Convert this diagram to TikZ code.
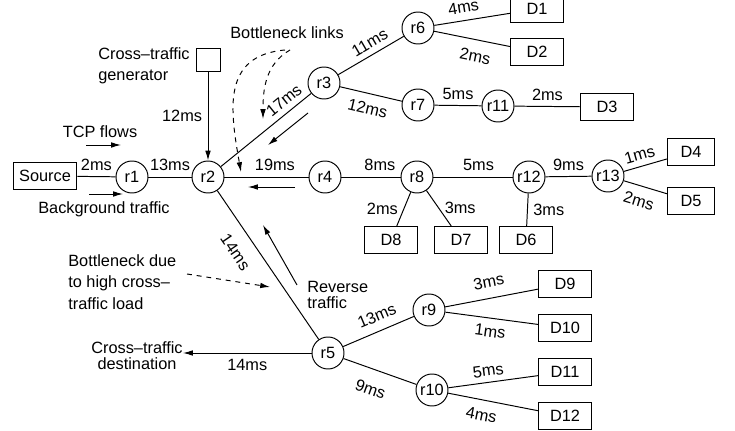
\documentclass[tikz,border=0pt]{standalone}
\usepackage{fontspec}
\setmainfont{Liberation Sans}
\usetikzlibrary{arrows.meta}
\tikzset{
  node-router/.style={draw,circle,line width=0.6pt,minimum size=19.6pt,inner sep=0pt},
  node-host/.style={draw,line width=0.6pt,minimum width=32pt,minimum height=16.5pt,inner sep=0pt},
  node-note/.style={inner sep=0pt,align=left,font=\fontsize{10}{13}\selectfont},
  link/.style={line width=0.6pt},
  arrow/.style={-{Latex[length=6pt,width=3.4pt]},line width=0.6pt},
  arrow-dashed/.style={-{Latex[length=6pt,width=3.4pt]},line width=0.6pt,dashed},
}

\begin{document}
\begin{tikzpicture}[x=0.6125pt,y=-0.6125pt,every node/.style={font=\fontsize{10}{12}\selectfont}]
  \useasboundingbox (0,0) rectangle (735,431);
  % routers
  \node[node-router] (r1)  at (132,177) {r1};
  \node[node-router] (r2)  at (208,177) {r2};
  \node[node-router] (r3)  at (324,83)  {r3};
  \node[node-router] (r4)  at (325,177) {r4};
  \node[node-router] (r5)  at (328,353) {r5};
  \node[node-router] (r6)  at (418,28)  {r6};
  \node[node-router] (r7)  at (418,105) {r7};
  \node[node-router] (r8)  at (417,177) {r8};
  \node[node-router] (r9)  at (429,310) {r9};
  \node[node-router] (r10) at (432,390) {r10};
  \node[node-router] (r11) at (498,106) {r11};
  \node[node-router] (r12) at (529,177) {r12};
  \node[node-router] (r13) at (608,176) {r13};
  % end hosts
  \node[node-host,minimum width=39pt,minimum height=17pt] (src) at (45,176) {Source};
  \node[node-host,minimum width=14.7pt,minimum height=14pt] (gen) at (208,60) {};
  \node[node-host] (d1)  at (537,9)   {D1};
  \node[node-host] (d2)  at (537,52)  {D2};
  \node[node-host] (d3)  at (607,107) {D3};
  \node[node-host,minimum width=29pt,minimum height=17pt] (d4) at (691,152) {D4};
  \node[node-host,minimum width=29pt,minimum height=17pt] (d5) at (691,201) {D5};
  \node[node-host] (d6)  at (526,240) {D6};
  \node[node-host] (d7)  at (461,240) {D7};
  \node[node-host] (d8)  at (391,240) {D8};
  \node[node-host] (d9)  at (565,284) {D9};
  \node[node-host] (d10) at (565,328) {D10};
  \node[node-host] (d11) at (565,372) {D11};
  \node[node-host] (d12) at (565,416) {D12};
  % notes
  \node[node-note,anchor=west] (gen-txt) at (98,66) {Cross–traffic\\generator};
  \node[node-note] (tcp-txt) at (100,132) {TCP flows};
  \node[node-note] (bg-txt)  at (104,209) {Background traffic};
  \node[node-note] (bl-txt)  at (287,33)  {Bottleneck links};
  \node[node-note,anchor=west] (bd-txt) at (68,282) {Bottleneck due\\to high cross–\\traffic load};
  \node[node-note,anchor=west,font=\fontsize{10}{9.8}\selectfont] (rev-txt) at (307,295) {Reverse\\traffic};
  \node[node-note,align=center,font=\fontsize{10}{9.8}\selectfont] (dest) at (137,356) {Cross–traffic\\destination};
  \coordinate (tcp-a) at (86,145);  \coordinate (tcp-b) at (121,145);
  \coordinate (bg-a)  at (89,194);  \coordinate (bg-b)  at (123,194);
  \coordinate (bl-a)  at (285,50);  \coordinate (bl-b)  at (290,50);
  \coordinate (bl-c)  at (241,172); \coordinate (bl-d)  at (263,119);
  \coordinate (rv-a)  at (308,113); \coordinate (rv-b)  at (268,145);
  \coordinate (rv-c)  at (295,187); \coordinate (rv-d)  at (248,187);
  \coordinate (rv-e)  at (297,285); \coordinate (rv-f)  at (263,225);
  \coordinate (bd-a)  at (187,274); \coordinate (bd-b)  at (270,287);
  % links
  \draw[link] (src) -- node[above] {2ms} (r1);
  \draw[link] (r1) -- node[above] {13ms} (r2);
  \draw[arrow] (gen) -- node[left] {12ms} (r2);
  \draw[link] (r2) -- node[above,sloped,pos=0.78] {17ms} (r3);
  \draw[link] (r2) -- node[above,pos=0.6] {19ms} (r4);
  \draw[link] (r2) -- node[below=5pt,sloped,pos=0.34] {14ms} (r5);
  \draw[link] (r3) -- node[above,sloped,pos=0.57] {11ms} (r6);
  \draw[link] (r3) -- node[below=2pt,sloped] {12ms} (r7);
  \draw[link] (r6) -- node[above=1pt,sloped,pos=0.41] {4ms} (d1);
  \draw[link] (r6) -- node[below=3pt,sloped,pos=0.58] {2ms} (d2);
  \draw[link] (r7) -- node[above] {5ms} (r11);
  \draw[link] (r11) -- node[above] {2ms} (d3);
  \draw[link] (r4) -- node[above,pos=0.65] {8ms} (r8);
  \draw[link] (r8) -- node[above,pos=0.57] {5ms} (r12);
  \draw[link] (r12) -- node[above] {9ms} (r13);
  \draw[link] (r13) -- node[above,sloped,pos=0.44] {1ms} (d4);
  \draw[link] (r13) -- node[below=2pt,sloped,pos=0.45] {2ms} (d5);
  \draw[link] (r8) -- node[left] {2ms} (d8);
  \draw[link] (r8) -- node[right] {3ms} (d7);
  \draw[link] (r12) -- node[right] {3ms} (d6);
  \draw[link] (r5) -- node[above=2pt,sloped,pos=0.56] {13ms} (r9);
  \draw[link] (r5) -- node[below=5pt,sloped,pos=0.46] {9ms} (r10);
  \draw[link] (r9) -- node[above=3pt,sloped] {3ms} (d9);
  \draw[link] (r9) -- node[below=1pt,sloped] {1ms} (d10);
  \draw[link] (r10) -- node[above,sloped,pos=0.46] {5ms} (d11);
  \draw[link] (r10) -- node[below=2pt,sloped,pos=0.4] {4ms} (d12);
  \draw[arrow] (r5) -- node[below] {14ms} (r5 -| dest.east);
  % traffic arrows
  \draw[arrow] (tcp-a) -- (tcp-b);
  \draw[arrow] (bg-a) -- (bg-b);
  \draw[arrow] (rv-a) -- (rv-b);
  \draw[arrow] (rv-c) -- (rv-d);
  \draw[arrow] (rv-e) -- (rv-f);
  \draw[arrow-dashed] (bl-a) to[out=185,in=100,looseness=1.25] (bl-c);
  \draw[arrow-dashed] (bl-b) to[out=210,in=90] (bl-d);
  \draw[arrow-dashed] (bd-a) -- (bd-b);
\end{tikzpicture}
\end{document}
